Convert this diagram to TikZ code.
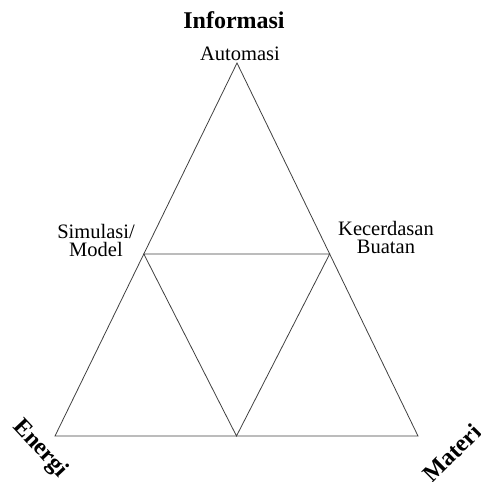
\documentclass[tikz,border=0pt]{standalone}
\usepackage{fontspec}
\setmainfont{Liberation Serif}
\usepackage{tikz}
\usetikzlibrary{calc,positioning}

\begin{document}
\begin{tikzpicture}[x=1pt,y=-1pt]

  % Parameters
  \def\fsz{20.5}
  \def\fbig{24}
  \def\cut{0.512}

  % Styles
  \tikzstyle{edge}=[draw=black!75,line width=0.8pt,line join=miter]
  \tikzstyle{label}=[inner sep=0pt,align=center,font=\fontsize{\fsz}{18}\selectfont]
  \tikzstyle{corner}=[inner sep=0pt,font=\fontsize{\fbig}{26}\selectfont\bfseries]

  % Canvas
  \useasboundingbox (0,0) rectangle (480,482);

  % Vertices of outer triangle
  \coordinate (top) at (237,63);
  \coordinate (bl) at (55,436);
  \coordinate (br) at (418,436);

  % Points of inner triangle
  \coordinate (ml) at ($(top)!\cut!(bl)$);
  \coordinate (mr) at ($(top)!\cut!(br)$);
  \coordinate (mb) at ($(bl)!0.5!(br)$);

  % Draw triangles
  \draw[edge] (top) -- (bl) -- (br) -- cycle;
  \draw[edge] (ml) -- (mr) -- (mb) -- cycle;

  % Labels
  \node[corner] (info) at (234,20) {Informasi};
  \node[label] (auto) at (240,54) {Automasi};
  \node[label] (sim) at (96,240) {Simulasi/\\Model};
  \node[label] (ai) at (386,237) {Kecerdasan\\Buatan};
  \node[corner,rotate=-47] (energi) at (40,449) {Energi};
  \node[corner,rotate=45] (materi) at (452,453) {Materi};

\end{tikzpicture}
\end{document}
